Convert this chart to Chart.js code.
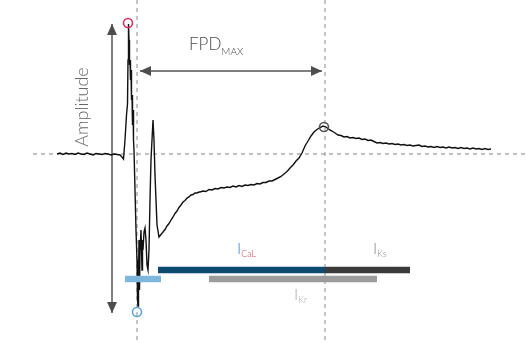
<!DOCTYPE html>
<html>
<head>
<meta charset="utf-8">
<script src="https://cdn.jsdelivr.net/npm/chart.js@4.4.1/dist/chart.umd.min.js"></script>
<style>
  body { margin: 0; background: #fff; }
  #wrap { width: 527px; height: 343px; }
</style>
</head>
<body>
<div id="wrap"><canvas id="chart"></canvas></div>
<script>
// field potential trace (time, amplitude)
const time = [57, 60, 63, 66, 69, 72, 75, 78, 81, 84, 87, 90, 93, 96, 99, 102, 105, 108, 111, 114, 117, 120, 122, 123.5,
  125, 126.5, 127.5, 128, 128.5, 129, 129.5, 130, 130.5, 131, 131.5, 132, 132.5, 133, 133.5, 134, 135, 136, 137, 137.5, 138,
  138.5, 139, 139.5, 140, 141, 142, 142.5, 143, 144, 145, 146, 147, 148, 149, 150, 151, 152, 153, 154, 155, 156, 157,
  159, 161, 163, 165, 167, 169, 171, 173, 175, 177, 179, 181, 183, 185, 187, 189, 191, 193, 195, 197, 199,
  200, 203, 206, 209, 212, 215, 218, 221, 224, 227, 230, 233, 236, 239, 242, 245, 248, 251, 254, 257, 260, 263, 266, 269,
  272, 275, 278, 281, 284, 287, 290, 293, 296, 299, 302, 305, 308, 311, 314, 317, 320, 323, 326, 329, 332, 335, 338,
  341, 344, 347, 350, 353, 356, 359, 362, 365, 368, 371, 374, 377, 380, 383, 386, 389, 392, 395, 398, 401, 404, 407,
  410, 413, 416, 419, 422, 425, 428, 431, 434, 437, 440, 443, 446, 449, 452, 455, 458, 461, 464, 467, 470, 473, 476,
  479, 482, 485, 488, 491];
const fp = [0, 1, -0.5, 1, 0, 0.5, -0.5, 1, 0, -0.5, 1, 0, -1, 0.5, 0, -0.5, 0.5, 0, -1, 0, -0.5, -1, -3, -5,
  14, 39, 50, 94, 130, 114, 89, 94, 74, 84, 54, 59, 29, 44, 14, 4, -36, -76, -106, -146, -152,
  -126, -86, -136, -96, -76, -116, -86, -96, -78, -74, -86, -111, -116, -96, -46, -6, 14, 34, 14, -21, -46, -71,
  -83, -80.5, -78, -75.5, -72, -69.5, -66, -63, -59.5, -57, -53.5, -51, -48, -46.5, -44, -43, -41, -40.5, -39, -39, -38,
  -38, -37, -37.5, -35.5, -36, -34.5, -35, -33.5, -34, -33, -33.5, -32, -33, -31.5, -32.5, -31, -31.5, -30.5, -31, -29.5, -30, -28.5, -28.5, -27,
  -27, -25.5, -24, -22.5, -20, -17.5, -14, -11, -7, -4, 1, 8, 13, 18, 22, 24.5, 26.5, 28, 27, 24.5, 23, 21, 19,
  18.5, 17, 17.5, 16, 16.5, 15.5, 16, 14.5, 15, 13.5, 14, 12.5, 11, 11.5, 10.5, 11, 10, 10.5, 9.5, 10, 9, 9.5, 8.5,
  9, 8, 8.5, 9, 7.5, 8, 7, 7.5, 6.5, 7.5, 6.5, 7, 6, 7, 6, 6.5, 5.5, 6.5, 5.5, 6, 5, 6, 5,
  5.5, 4.5, 5.5, 4.5, 5];

const baselineTime = [33, 527];
const markerTimes = [137, 325];

const peakTimes = [128, 137, 324];
const peakValues = [131, -158, 27];

// amplitude: max to min, FPD: depolarisation to repolarisation peak
const amplitudeRange = [130, -159];
const amplitudeTime = 112;
const fpdRange = [140, 322];
const fpdLevel = 83;

// ionic currents: start, end, level
const currentNames = ['Na', 'CaL', 'Ks', 'Kr'];
const currentStart = [125, 158, 325, 209];
const currentEnd = [161, 325, 410, 377];
const currentLevel = [-125, -116, -116, -125];

const xMin = 0, xMax = 527, yMin = -189, yMax = 154;

const currentColors = ['#7fb6dc', '#0e4a70', '#3a3a3a', '#9c9c9c'];
const peakColors = ['#d4305f', '#5ba6d8', '#555555'];

const datasets = [];

datasets.push({
  data: time.map((t, i) => ({ x: t, y: fp[i] })),
  borderColor: '#111',
  borderWidth: 1.4,
  pointRadius: 0,
  tension: 0,
  order: 2
});

datasets.push({
  data: baselineTime.map(t => ({ x: t, y: 0 })),
  borderColor: '#9a9a9a',
  borderWidth: 1.2,
  borderDash: [4, 4],
  pointRadius: 0,
  order: 6
});

markerTimes.forEach(t => {
  datasets.push({
    data: [{ x: t, y: yMax }, { x: t, y: yMin }],
    borderColor: '#a0a0a0',
    borderWidth: 1.2,
    borderDash: [4, 4],
    pointRadius: 0,
    order: 6
  });
});

datasets.push({
  data: amplitudeRange.map(v => ({ x: amplitudeTime, y: v })),
  borderColor: '#555',
  borderWidth: 1.5,
  pointRadius: 0,
  order: 5
});
datasets.push({
  data: fpdRange.map(t => ({ x: t, y: fpdLevel })),
  borderColor: '#555',
  borderWidth: 1.5,
  pointRadius: 0,
  order: 5
});

currentNames.forEach((name, i) => {
  datasets.push({
    label: name,
    data: [{ x: currentStart[i], y: currentLevel[i] }, { x: currentEnd[i], y: currentLevel[i] }],
    borderColor: currentColors[i],
    borderWidth: 6.5,
    borderCapStyle: 'butt',
    pointRadius: 0,
    order: i == 0 ? 1 : 4
  });
});

datasets.push({
  data: peakTimes.map((t, i) => ({ x: t, y: peakValues[i] })),
  showLine: false,
  pointRadius: 4.5,
  pointBorderWidth: 1.6,
  pointBackgroundColor: 'rgba(0,0,0,0)',
  pointBorderColor: peakColors,
  order: 0
});

function arrowHead(ctx, x, y, dx, dy) {
  const len = 11, half = 5;
  ctx.beginPath();
  ctx.moveTo(x, y);
  ctx.lineTo(x - dx * len - dy * half, y - dy * len + dx * half);
  ctx.lineTo(x - dx * len + dy * half, y - dy * len - dx * half);
  ctx.closePath();
  ctx.fill();
}

const annotations = {
  id: 'annotations',
  afterDatasetsDraw(chart) {
    const ctx = chart.ctx;
    const xs = chart.scales.x, ys = chart.scales.y;
    ctx.save();
    ctx.fillStyle = '#4d4d4d';

    // arrow heads
    const ax = xs.getPixelForValue(amplitudeTime);
    arrowHead(ctx, ax, ys.getPixelForValue(amplitudeRange[0]), 0, -1);
    arrowHead(ctx, ax, ys.getPixelForValue(amplitudeRange[1]), 0, 1);
    const fy = ys.getPixelForValue(fpdLevel);
    arrowHead(ctx, xs.getPixelForValue(fpdRange[0]), fy, -1, 0);
    arrowHead(ctx, xs.getPixelForValue(fpdRange[1]), fy, 1, 0);

    // Amplitude label
    ctx.save();
    ctx.translate(xs.getPixelForValue(82), ys.getPixelForValue(47));
    ctx.rotate(-Math.PI / 2);
    ctx.font = '300 18px Lato';
    ctx.fillStyle = '#666';
    ctx.textAlign = 'center';
    ctx.textBaseline = 'middle';
    ctx.fillText('Amplitude', 0, 0);
    ctx.restore();

    // FPD max label
    ctx.textBaseline = 'alphabetic';
    ctx.textAlign = 'left';
    ctx.fillStyle = '#4a4a4a';
    ctx.font = '300 17px Lato';
    const fx = xs.getPixelForValue(189), fyl = ys.getPixelForValue(104);
    ctx.fillText('FPD', fx, fyl);
    const w = ctx.measureText('FPD').width;
    ctx.font = '300 10px Lato';
    ctx.fillText('MAX', fx + w, fyl + 5);

    // current labels
    const labels = [
      { name: 'CaL', x: 237, y: -100, main: '#3f7fcf', sub: '#c8505e' },
      { name: 'Ks', x: 373, y: -100, main: '#8a8a8a', sub: '#8a8a8a' },
      { name: 'Kr', x: 294, y: -146, main: '#a8a8a8', sub: '#a8a8a8' }
    ];
    labels.forEach(l => {
      const px = xs.getPixelForValue(l.x), py = ys.getPixelForValue(l.y);
      ctx.font = '300 16px Lato';
      ctx.fillStyle = l.main;
      ctx.fillText('I', px, py);
      const iw = ctx.measureText('I').width;
      ctx.font = '300 9px Lato';
      ctx.fillStyle = l.sub;
      ctx.fillText(l.name, px + iw, py + 3);
    });
    ctx.restore();
  }
};

new Chart('chart', {
  type: 'line',
  data: { datasets: datasets },
  options: {
    responsive: true,
    maintainAspectRatio: false,
    animation: false,
    layout: { padding: 0, autoPadding: false },
    plugins: {
      legend: { display: false },
      tooltip: { enabled: false }
    },
    scales: {
      x: { type: 'linear', min: xMin, max: xMax, display: false },
      y: { type: 'linear', min: yMin, max: yMax, display: false }
    }
  },
  plugins: [annotations]
});
</script>
</body>
</html>
